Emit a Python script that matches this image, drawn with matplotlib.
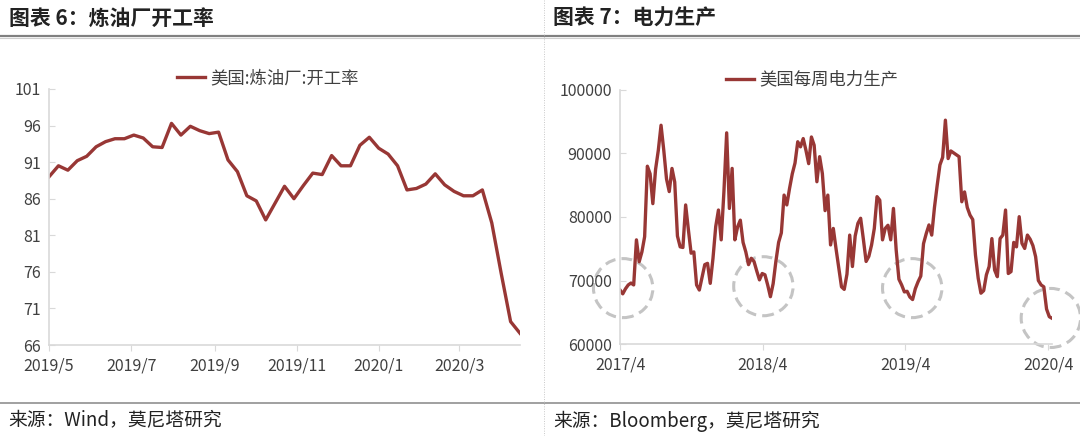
import numpy as np
import matplotlib
matplotlib.use("Agg")
import matplotlib.pyplot as plt
import matplotlib.dates as mdates
from matplotlib.patches import Ellipse
from matplotlib.lines import Line2D

plt.rcParams['font.family'] = ['Noto Sans CJK SC', 'DejaVu Sans']

# 图表6: 美国炼油厂开工率, weekly from 2019-05-01
refinery_start = "2019-05-01"
refinery_util = [89.0, 90.5, 89.9, 91.2, 91.8, 93.1, 93.8, 94.2, 94.2, 94.7,
                 94.3, 93.1, 93.0, 96.3, 94.7, 95.9, 95.3, 94.9, 95.1, 91.3,
                 89.7, 86.4, 85.7, 83.1, 85.4, 87.7, 86.0, 87.8, 89.5, 89.3,
                 91.9, 90.5, 90.5, 93.3, 94.4, 92.9, 92.1, 90.5, 87.2, 87.4,
                 88.0, 89.4, 87.9, 87.0, 86.4, 86.4, 87.2, 82.7, 75.8, 69.2,
                 67.6]

# 图表7: 美国每周电力生产, weekly from 2017-04-01
power_start = "2017-04-01"
power_output = [68500, 67900, 68700, 69300, 69600, 69300, 76400, 72950, 74500, 76900,
                88000, 86800, 82100, 87500, 90500, 94450, 90500, 86000, 84000, 87650,
                85500, 77000, 75300, 75200, 81900, 78000, 74300, 74500, 69300, 68500,
                70500, 72500, 72700, 69550, 73500, 78500, 81100, 76400, 84000, 93250,
                81350, 87650, 76400, 78450, 79500, 76000, 74500, 72500, 73500, 73000,
                71500, 70100, 71100, 70900, 69300, 67450, 69500, 73000, 76000, 77500,
                83450, 81900, 84500, 86800, 88500, 91850, 91050, 92350, 90500, 88400,
                92600, 91300, 85550, 89500, 86850, 81000, 83450, 75600, 78200, 75000,
                72000, 69000, 68600, 71000, 77150, 72200, 77000, 79000, 79800, 76500,
                73000, 73800, 75600, 78200, 83200, 82650, 76400, 78200, 78700, 76400,
                81350, 74800, 70200, 69300, 68200, 68300, 67400, 67000, 68700, 69800,
                70700, 75800, 77400, 78750, 77150, 81500, 85000, 88200, 89400, 95250,
                89200, 90400, 90100, 89800, 89500, 82400, 83950, 81500, 80300, 79600,
                74000, 70350, 68000, 68400, 70900, 72200, 76600, 71650, 70600, 76600,
                77150, 81100, 71100, 71400, 76000, 75300, 80050, 75850, 75050, 77150,
                76500, 75500, 73750, 70000, 69300, 69000, 65500, 64300, 64050]

# dashed circles marking the spring lows
circle_dates = ["2017-04-09", "2018-04-03", "2019-04-19", "2020-04-08"]
circle_values = [68800, 69100, 68800, 64100]

ref_dates = np.datetime64(refinery_start) + np.arange(len(refinery_util)) * np.timedelta64(7, 'D')
pow_dates = np.datetime64(power_start) + np.arange(len(power_output)) * np.timedelta64(7, 'D')

line_color = "#983735"
spine_color = "#d9d9d9"
text_color = "#404040"

fig = plt.figure(figsize=(10.8, 4.36), dpi=100)

# header / footer decorations
fig.add_artist(Line2D([0, 1], [0.917, 0.917], color="#808080", lw=1.6))
fig.add_artist(Line2D([0, 1], [0.912, 0.912], color="#cfcfcf", lw=0.8))
fig.add_artist(Line2D([0, 1], [0.076, 0.076], color="#909090", lw=1.2))
fig.add_artist(Line2D([0.5035, 0.5035], [0, 1], color="#c8c8c8", lw=0.7, ls=(0, (1, 1.5))))
fig.text(0.008, 0.958, "图表 6：炼油厂开工率", fontsize=15, fontweight="bold", va="center", color="#222222")
fig.text(0.512, 0.958, "图表 7：电力生产", fontsize=15, fontweight="bold", va="center", color="#222222")
fig.text(0.008, 0.034, "来源：Wind，莫尼塔研究", fontsize=13.5, va="center", color="#222222")
fig.text(0.512, 0.034, "来源：Bloomberg，莫尼塔研究", fontsize=13.5, va="center", color="#222222")


def style_axes(ax):
    for s in ["top", "right"]:
        ax.spines[s].set_visible(False)
    for s in ["left", "bottom"]:
        ax.spines[s].set_color(spine_color)
        ax.spines[s].set_linewidth(1.2)
    ax.tick_params(axis="y", direction="in", length=4, color=spine_color, labelsize=11.5,
                   labelcolor=text_color, pad=6)
    ax.tick_params(axis="x", direction="out", length=4, color=spine_color, labelsize=11.5,
                   labelcolor=text_color, pad=5)


def month_fmt(x, pos=None):
    d = mdates.num2date(x)
    return f"{d.year}/{d.month}"


# left chart
ax1 = fig.add_axes([0.0454, 0.2087, 0.4361, 0.5872])
ax1.plot(ref_dates, refinery_util, color=line_color, lw=2.4, label="美国:炼油厂:开工率")
ax1.set_ylim(66, 101)
ax1.set_yticks(np.arange(66, 102, 5))
ax1.set_xlim(ref_dates[0], ref_dates[-1])
ax1.xaxis.set_major_locator(mdates.MonthLocator(bymonth=[1, 3, 5, 7, 9, 11]))
ax1.xaxis.set_major_formatter(plt.FuncFormatter(month_fmt))
style_axes(ax1)
ax1.legend(loc="center", bbox_to_anchor=(0.248, 0.821), bbox_transform=fig.transFigure,
           frameon=False, fontsize=12.5, handlelength=1.6, handletextpad=0.3,
           labelcolor=text_color)

# right chart
ax2 = fig.add_axes([0.5741, 0.2110, 0.4000, 0.5826])
ax2.plot(pow_dates, power_output, color=line_color, lw=2.4, label="美国每周电力生产")
ax2.set_ylim(60000, 100000)
ax2.set_yticks(np.arange(60000, 100001, 10000))
ax2.set_xlim(pow_dates[0], pow_dates[-1])
ax2.xaxis.set_major_locator(mdates.YearLocator(month=4, day=1))
ax2.xaxis.set_major_formatter(plt.FuncFormatter(month_fmt))
style_axes(ax2)
ax2.legend(loc="center", bbox_to_anchor=(0.752, 0.817), bbox_transform=fig.transFigure,
           frameon=False, fontsize=12.5, handlelength=1.6, handletextpad=0.3,
           labelcolor=text_color)

# circles: radius ~29.5 px -> in data units
for d, v in zip(circle_dates, circle_values):
    e = Ellipse((mdates.date2num(np.datetime64(d)), v), width=152, height=9300,
                fill=False, edgecolor="#c4c4c4", lw=2.2, ls=(0, (3.5, 2)), clip_on=False)
    ax2.add_patch(e)

fig.savefig("out.png", dpi=100)
